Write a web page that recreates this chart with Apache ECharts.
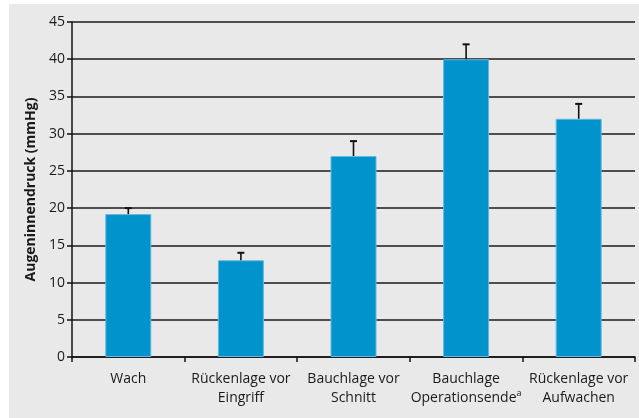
<!DOCTYPE html>
<html>
<head>
<meta charset="utf-8">
<script src="https://cdn.jsdelivr.net/npm/echarts@6/dist/echarts.min.js"></script>
<style>
html,body{margin:0;padding:0;background:#ffffff;}
#wrap{position:absolute;left:9px;top:4px;width:630px;height:414px;background:#e8e9e8;}
#chart{position:absolute;left:0;top:0;width:639px;height:418px;}
</style>
</head>
<body>
<div id="wrap"></div>
<div id="chart"></div>
<script>
var categories = ['Wach', 'Rückenlage vor\nEingriff', 'Bauchlage vor\nSchnitt', 'Bauchlage\nOperationsende{sup|a}', 'Rückenlage vor\nAufwachen'];
var values = [19.2, 13, 27, 40, 32];
var errors = [0.8, 1, 2, 2, 2];
var yTicks = [0, 5, 10, 15, 20, 25, 30, 35, 40, 45];

var chart = echarts.init(document.getElementById('chart'), null, {renderer: 'canvas'});
var font = '"Open Sans", "Noto Sans", sans-serif';
var option = {
  backgroundColor: 'transparent',
  animation: false,
  grid: {left: 72, right: 4, top: 22, bottom: 61, containLabel: false},
  xAxis: {
    type: 'category',
    data: categories,
    axisLine: {show: true, lineStyle: {color: '#111', width: 1.5}},
    axisTick: {show: true, alignWithLabel: false, length: 5, lineStyle: {color: '#111', width: 1.5}},
    axisLabel: {
      interval: 0, color: '#1a1a1a', fontSize: 14, fontFamily: font, lineHeight: 19, margin: 13,
      rich: {sup: {fontSize: 9, fontFamily: font, color: '#1a1a1a', verticalAlign: 'top', padding: [0, 0, 10, 0]}}
    }
  },
  yAxis: {
    type: 'value', min: 0, max: 45, interval: 5,
    name: 'Augeninnendruck (mmHg)', nameLocation: 'middle', nameGap: 32,
    nameTextStyle: {fontSize: 14, fontWeight: 'bold', color: '#1a1a1a', fontFamily: font},
    axisLine: {show: true, lineStyle: {color: '#111', width: 1.5}},
    axisTick: {show: true, length: 5, lineStyle: {color: '#111', width: 1.5}},
    axisLabel: {color: '#1a1a1a', fontSize: 14, fontFamily: font, margin: 7,
      formatter: function (v) { return yTicks.indexOf(v) >= 0 ? String(v) : ''; }},
    splitLine: {show: true, lineStyle: {color: '#1a1a1a', width: 1.5}}
  },
  series: [
    {
      type: 'bar', data: values, barWidth: 46,
      itemStyle: {color: '#0093cc', borderColor: '#63b9e0', borderWidth: 1}
    },
    {
      type: 'custom',
      data: values.map(function (v, i) { return [i, v, v + errors[i]]; }),
      renderItem: function (params, api) {
        var lo = api.coord([api.value(0), api.value(1)]);
        var hi = api.coord([api.value(0), api.value(2)]);
        var hw = 3.5;
        return {
          type: 'group',
          children: [
            {type: 'line', shape: {x1: lo[0], y1: lo[1], x2: hi[0], y2: hi[1]}, style: {stroke: '#111', lineWidth: 1.6}},
            {type: 'line', shape: {x1: hi[0] - hw, y1: hi[1], x2: hi[0] + hw, y2: hi[1]}, style: {stroke: '#111', lineWidth: 2}}
          ]
        };
      },
      z: 10
    }
  ]
};
chart.setOption(option);
</script>
</body>
</html>
